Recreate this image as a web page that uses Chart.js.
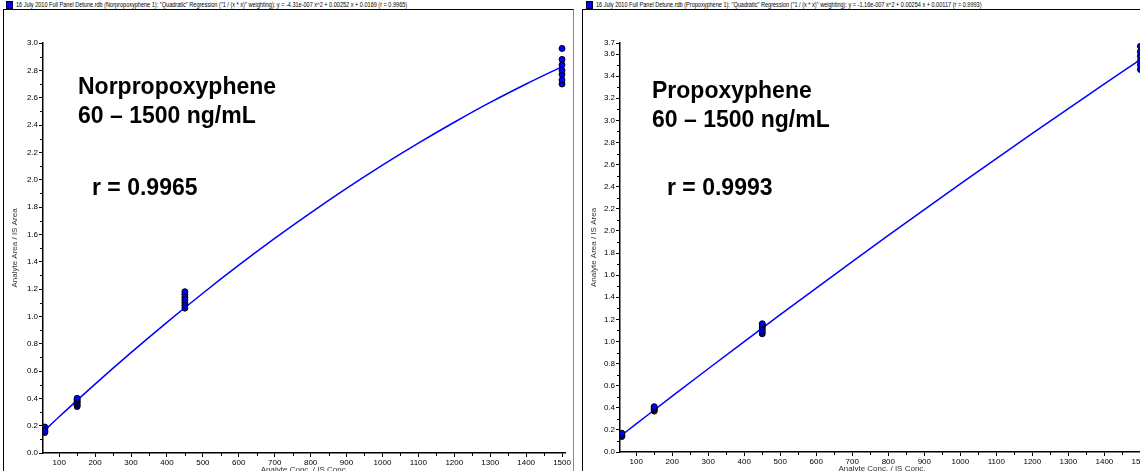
<!DOCTYPE html>
<html>
<head>
<meta charset="utf-8">
<script src="https://cdn.jsdelivr.net/npm/chart.js@4.4.1/dist/chart.umd.min.js"></script>
<style>
  html, body { margin: 0; padding: 0; background: #fff; }
  body { width: 1140px; height: 471px; overflow: hidden; position: relative; font-family: "Liberation Sans", Arial, sans-serif; }
  .frame { position: absolute; top: 9px; height: 480px; border-top: 1px solid #000; }
  .box { position: absolute; }
  .hdr { position: absolute; top: 1px; font-family: "Liberation Sans Narrow", "Liberation Sans", sans-serif; font-size: 7.5px; color: #000; white-space: nowrap; line-height: 8px; transform: scaleX(0.74); transform-origin: 0 0; }
  .sq { position: absolute; top: 1px; width: 5px; height: 6px; background: #0000ff; border: 1px solid #000033; }
  .big { position: absolute; font-weight: bold; font-size: 23px; line-height: 29px; color: #000; white-space: nowrap; }
</style>
</head>
<body>
<div class="frame" style="left:3px; width:569px; border-left:1px solid #000; border-right:1px solid #888;"></div>
<div class="frame" style="left:582px; width:600px; border-left:1px solid #000;"></div>

<div class="sq" style="left:6px;"></div>
<div class="hdr" id="hdrL" style="left:16px;">16 July 2010 Full Panel Detune.rdb (Norpropoxyphene 1): "Quadratic" Regression ("1 / (x * x)" weighting): y = -4.31e-007 x^2 + 0.00252 x + 0.0169 (r = 0.9965)</div>
<div class="sq" style="left:586px;"></div>
<div class="hdr" id="hdrR" style="left:596px;">16 July 2010 Full Panel Detune.rdb (Propoxyphene 1): "Quadratic" Regression ("1 / (x * x)" weighting): y = -1.16e-007 x^2 + 0.00254 x + 0.00117 (r = 0.9993)</div>

<div class="box" style="left:4px; top:10px;"><canvas id="chartL" width="568" height="465"></canvas></div>
<div class="box" style="left:583px; top:10px;"><canvas id="chartR" width="568" height="464"></canvas></div>

<div class="big" style="left:78px; top:72px;">Norpropoxyphene<br>60 – 1500 ng/mL</div>
<div class="big" style="left:92px; top:173px;">r = 0.9965</div>
<div class="big" style="left:652px; top:76px;">Propoxyphene<br>60 – 1500 ng/mL</div>
<div class="big" style="left:667px; top:173px;">r = 0.9993</div>

<script>
// calibration levels (ng/mL) and replicate responses
const levels = [60, 150, 450, 1500];

const norResp = [
  [0.15, 0.16, 0.17, 0.18, 0.19, 0.16],
  [0.34, 0.35, 0.36, 0.37, 0.38, 0.39, 0.40],
  [1.06, 1.08, 1.10, 1.12, 1.14, 1.16, 1.18],
  [2.70, 2.73, 2.77, 2.80, 2.84, 2.88, 2.96]
];
const proResp = [
  [0.14, 0.15, 0.16, 0.17],
  [0.37, 0.38, 0.39, 0.40, 0.41],
  [1.07, 1.09, 1.11, 1.13, 1.15, 1.16],
  [3.46, 3.50, 3.54, 3.58, 3.62, 3.67]
];

// fitted curves
const fitConc = [55, 100, 200, 300, 400, 500, 600, 700, 800, 900, 1000, 1100, 1200, 1300, 1400, 1500];
const norFit = [0.154, 0.265, 0.504, 0.734, 0.956, 1.169, 1.374, 1.570, 1.757, 1.936, 2.106, 2.267, 2.420, 2.565, 2.700, 2.827];
const proFit = [0.141, 0.254, 0.505, 0.753, 0.999, 1.242, 1.483, 1.722, 1.959, 2.193, 2.425, 2.655, 2.882, 3.107, 3.330, 3.550];

const xTicks = [100, 200, 300, 400, 500, 600, 700, 800, 900, 1000, 1100, 1200, 1300, 1400, 1500];
const norYTicks = [0.0, 0.2, 0.4, 0.6, 0.8, 1.0, 1.2, 1.4, 1.6, 1.8, 2.0, 2.2, 2.4, 2.6, 2.8, 3.0];
const proYTicks = [0.0, 0.2, 0.4, 0.6, 0.8, 1.0, 1.2, 1.4, 1.6, 1.8, 2.0, 2.2, 2.4, 2.6, 2.8, 3.0, 3.2, 3.4, 3.6, 3.7];

const tickFont = { family: "'Liberation Sans Narrow', 'Liberation Sans', sans-serif", size: 8 };

function points(resp) {
  const out = [];
  resp.forEach(function (arr, i) {
    arr.forEach(function (v) { out.push({ x: levels[i], y: v }); });
  });
  return out;
}

function line(fit) {
  return fitConc.map(function (c, i) { return { x: c, y: fit[i] }; });
}

// short minor tick marks between the labelled ones
const minorTicks = {
  id: "minorTicks",
  afterDraw: function (chart) {
    const ctx = chart.ctx;
    const xs = chart.scales.x, ys = chart.scales.y;
    ctx.save();
    ctx.strokeStyle = "#000";
    ctx.lineWidth = 1;
    ctx.beginPath();
    for (let v = 150; v < xs.max; v += 100) {
      const px = Math.round(xs.getPixelForValue(v)) + 0.5;
      ctx.moveTo(px, xs.top);
      ctx.lineTo(px, xs.top + 3);
    }
    for (let k = 1; k / 10 < ys.max; k += 2) {
      const py = Math.round(ys.getPixelForValue(k / 10)) + 0.5;
      ctx.moveTo(ys.right, py);
      ctx.lineTo(ys.right - 3, py);
    }
    ctx.stroke();
    ctx.restore();
  }
};

function makeChart(id, resp, fit, yTicks, yMax, yWidth, padRight) {
  return new Chart(document.getElementById(id).getContext("2d"), {
    type: "scatter",
    data: {
      datasets: [
        {
          data: points(resp),
          pointRadius: 3,
          pointBackgroundColor: "#0000ff",
          pointBorderColor: "#000000",
          pointBorderWidth: 1,
          showLine: false
        },
        {
          data: line(fit),
          showLine: true,
          borderColor: "#0000ff",
          borderWidth: 1.5,
          pointRadius: 0,
          cubicInterpolationMode: "monotone"
        }
      ]
    },
    options: {
      responsive: false,
      devicePixelRatio: 1,
      animation: false,
      layout: { padding: { top: 33, right: padRight, left: 0, bottom: 0 } },
      plugins: { legend: { display: false }, tooltip: { enabled: false } },
      scales: {
        x: {
          type: "linear",
          min: 55,
          max: 1510,
          afterBuildTicks: function (s) { s.ticks = xTicks.map(function (v) { return { value: v }; }); },
          afterFit: function (s) { s.height = 22; },
          ticks: { font: tickFont, color: "#000", padding: 1, maxRotation: 0, autoSkip: false, callback: function (v) { return String(v); } },
          grid: { drawOnChartArea: false, tickLength: 4, color: "#000" },
          border: { color: "#000", width: 1.5 },
          title: { display: true, text: "Analyte Conc. / IS Conc.", font: tickFont, color: "#333", padding: { top: 0, bottom: 0 } }
        },
        y: {
          min: 0,
          max: yMax,
          afterBuildTicks: function (s) { s.ticks = yTicks.map(function (v) { return { value: v }; }); },
          afterFit: function (s) { s.width = yWidth; },
          ticks: { font: tickFont, color: "#000", padding: 1, autoSkip: false, callback: function (v) { return Number(v).toFixed(1); } },
          grid: { drawOnChartArea: false, tickLength: 4, color: "#000" },
          border: { color: "#000", width: 1.5 },
          title: { display: true, text: "Analyte Area / IS Area", font: tickFont, color: "#333", padding: { top: 6, bottom: 0 } }
        }
      }
    },
    plugins: [minorTicks]
  });
}

makeChart("chartL", norResp, norFit, norYTicks, 3.0, 39, 5);
makeChart("chartR", proResp, proFit, proYTicks, 3.7, 37, 7);
</script>
</body>
</html>
